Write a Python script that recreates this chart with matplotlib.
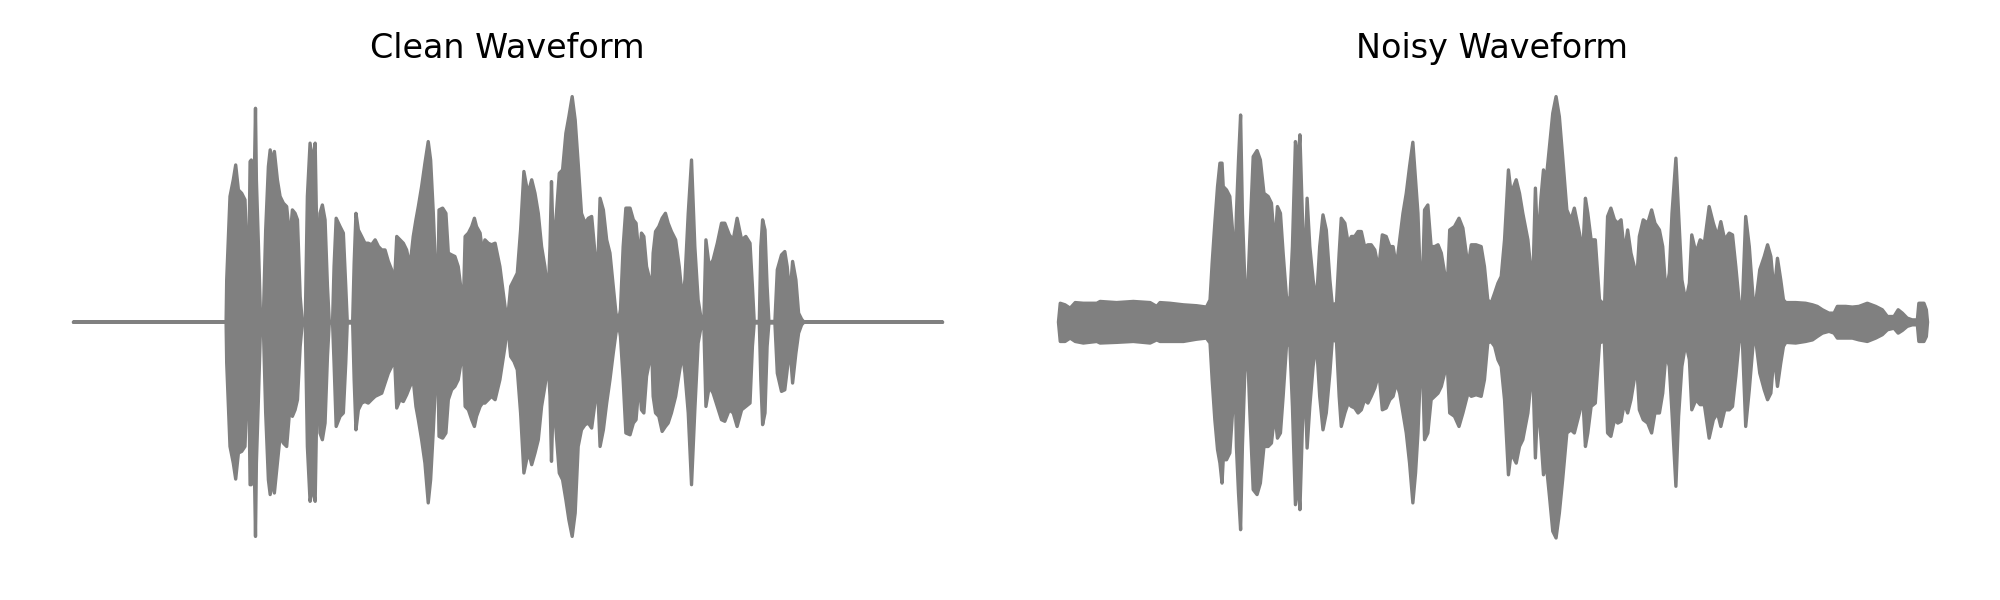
import numpy as np
import matplotlib
matplotlib.use("Agg")
import matplotlib.pyplot as plt

# envelope of the clean recording: time (s), upper and lower amplitude (normalised)
clean_t = [0.000, 0.509, 0.511, 0.522, 0.533, 0.541, 0.550, 0.561, 0.572, 0.580, 0.584, 0.589, 0.593,
           0.599, 0.603, 0.607, 0.610, 0.617, 0.624, 0.633, 0.641, 0.650, 0.656, 0.663, 0.670, 0.680,
           0.689, 0.700, 0.711, 0.722, 0.730, 0.739, 0.747, 0.756, 0.763, 0.773, 0.780, 0.789, 0.797,
           0.806, 0.811, 0.817, 0.822, 0.830, 0.839, 0.847, 0.853, 0.864, 0.869, 0.876, 0.889, 0.900,
           0.908, 0.913, 0.931, 0.936, 0.942, 0.950, 0.961, 0.972, 0.983, 0.994, 1.006, 1.017, 1.028,
           1.039, 1.050, 1.061, 1.067, 1.071, 1.078, 1.089, 1.100, 1.111, 1.122, 1.133, 1.142, 1.150,
           1.161, 1.172, 1.183, 1.191, 1.200, 1.209, 1.214, 1.219, 1.231, 1.242, 1.250, 1.261, 1.272,
           1.283, 1.294, 1.300, 1.306, 1.317, 1.328, 1.337, 1.344, 1.356, 1.364, 1.372, 1.383, 1.394,
           1.406, 1.422, 1.439, 1.447, 1.458, 1.469, 1.480, 1.491, 1.502, 1.511, 1.519, 1.528, 1.539,
           1.550, 1.561, 1.572, 1.583, 1.589, 1.594, 1.600, 1.609, 1.620, 1.631, 1.642, 1.652, 1.663,
           1.673, 1.683, 1.694, 1.706, 1.717, 1.728, 1.739, 1.747, 1.756, 1.767, 1.778, 1.789, 1.800,
           1.809, 1.817, 1.824, 1.833, 1.842, 1.856, 1.867, 1.876, 1.887, 1.894, 1.902, 1.911, 1.922,
           1.928, 1.933, 1.941, 1.952, 1.963, 1.974, 1.983, 1.994, 2.008, 2.020, 2.031, 2.039, 2.050,
           2.061, 2.072, 2.083, 2.094, 2.102, 2.109, 2.120, 2.133, 2.147, 2.161, 2.172, 2.187, 2.200,
           2.213, 2.228, 2.242, 2.256, 2.264, 2.270, 2.287, 2.292, 2.298, 2.306, 2.313, 2.319, 2.339,
           2.347, 2.361, 2.372, 2.380, 2.389, 2.398, 2.409, 2.418, 2.428, 2.436, 2.898]
clean_hi = [0, 0, 0.188, 0.559, 0.633, 0.699, 0.588, 0.573, 0.544, 0.247, 0.188, 0.714, 0.721,
            0.484, 0.633, 0.951, 0.633, 0.336, 0.010, 0.010, 0.410, 0.692, 0.766, 0.707, 0.759, 0.633,
            0.559, 0.529, 0.514, 0.366, 0.499, 0.484, 0.455, 0.114, 0.003, 0.003, 0.559, 0.796, 0.707,
            0.796, 0.410, 0.247, 0.484, 0.521, 0.455, 0.159, 0.003, 0.003, 0.247, 0.462, 0.425, 0.396,
            0.159, 0.003, 0.003, 0.262, 0.484, 0.410, 0.381, 0.351, 0.351, 0.344, 0.366, 0.336, 0.321,
            0.321, 0.270, 0.233, 0.129, 0.188, 0.381, 0.366, 0.351, 0.321, 0.247, 0.381, 0.455, 0.514,
            0.603, 0.707, 0.803, 0.721, 0.484, 0.188, 0.070, 0.499, 0.507, 0.484, 0.307, 0.299, 0.292,
            0.247, 0.129, 0.070, 0.381, 0.396, 0.425, 0.462, 0.425, 0.396, 0.307, 0.366, 0.351, 0.344,
            0.351, 0.247, 0.070, 0.003, 0.159, 0.188, 0.218, 0.410, 0.670, 0.603, 0.588, 0.633, 0.573,
            0.484, 0.336, 0.247, 0.114, 0.336, 0.625, 0.336, 0.455, 0.662, 0.677, 0.840, 0.914, 1.003,
            0.899, 0.707, 0.484, 0.440, 0.462, 0.470, 0.307, 0.188, 0.551, 0.499, 0.366, 0.307, 0.159,
            0.040, 0.003, 0.055, 0.336, 0.507, 0.507, 0.455, 0.440, 0.277, 0.396, 0.381, 0.247, 0.188,
            0.114, 0.307, 0.403, 0.425, 0.462, 0.484, 0.440, 0.403, 0.366, 0.247, 0.099, 0.188, 0.484,
            0.721, 0.336, 0.099, 0.007, 0.007, 0.366, 0.247, 0.277, 0.351, 0.440, 0.440, 0.388, 0.366,
            0.462, 0.366, 0.381, 0.351, 0.159, 0.003, 0.003, 0.336, 0.455, 0.410, 0.159, 0.003, 0.003,
            0.233, 0.299, 0.314, 0.247, 0.114, 0.270, 0.188, 0.040, 0.013, 0, 0]
clean_lo = [0, 0, -0.182, -0.553, -0.627, -0.698, -0.582, -0.575, -0.553, -0.256, -0.197, -0.723, -0.723,
            -0.479, -0.627, -0.953, -0.627, -0.330, -0.012, -0.012, -0.404, -0.701, -0.767, -0.701, -0.760, -0.627,
            -0.508, -0.538, -0.553, -0.375, -0.419, -0.390, -0.345, -0.108, -0.004, -0.004, -0.553, -0.797, -0.730,
            -0.797, -0.404, -0.182, -0.493, -0.523, -0.449, -0.153, -0.004, -0.004, -0.182, -0.464, -0.419, -0.404,
            -0.182, -0.004, -0.004, -0.256, -0.479, -0.390, -0.360, -0.353, -0.360, -0.345, -0.330, -0.323, -0.316,
            -0.271, -0.227, -0.197, -0.138, -0.167, -0.382, -0.345, -0.353, -0.323, -0.286, -0.256, -0.375, -0.434,
            -0.523, -0.627, -0.804, -0.701, -0.479, -0.227, -0.108, -0.508, -0.516, -0.493, -0.345, -0.301, -0.286,
            -0.256, -0.167, -0.108, -0.375, -0.390, -0.434, -0.464, -0.419, -0.375, -0.360, -0.360, -0.345, -0.330,
            -0.345, -0.256, -0.108, -0.004, -0.153, -0.175, -0.212, -0.404, -0.671, -0.612, -0.582, -0.634, -0.582,
            -0.523, -0.375, -0.286, -0.182, -0.330, -0.619, -0.330, -0.479, -0.671, -0.701, -0.790, -0.879, -0.953,
            -0.849, -0.553, -0.479, -0.456, -0.449, -0.471, -0.360, -0.256, -0.553, -0.479, -0.360, -0.256, -0.138,
            -0.049, -0.004, -0.064, -0.256, -0.493, -0.501, -0.449, -0.434, -0.256, -0.390, -0.404, -0.241, -0.167,
            -0.108, -0.330, -0.404, -0.419, -0.486, -0.464, -0.449, -0.404, -0.330, -0.227, -0.138, -0.227, -0.404,
            -0.723, -0.390, -0.093, -0.012, -0.012, -0.375, -0.286, -0.316, -0.375, -0.434, -0.441, -0.390, -0.404,
            -0.464, -0.390, -0.375, -0.360, -0.108, -0.004, -0.004, -0.256, -0.456, -0.404, -0.108, -0.004, -0.004,
            -0.227, -0.308, -0.301, -0.212, -0.108, -0.271, -0.138, -0.049, -0.012, 0, 0]

# envelope of the noisy recording
noisy_t = [0.000, 0.006, 0.022, 0.039, 0.056, 0.083, 0.128, 0.139, 0.194, 0.250, 0.306, 0.328, 0.339,
           0.372, 0.417, 0.461, 0.494, 0.506, 0.513, 0.522, 0.531, 0.539, 0.546, 0.550, 0.561, 0.572,
           0.581, 0.589, 0.594, 0.601, 0.608, 0.614, 0.622, 0.630, 0.639, 0.650, 0.663, 0.674, 0.686,
           0.700, 0.711, 0.722, 0.731, 0.741, 0.750, 0.761, 0.772, 0.781, 0.791, 0.800, 0.806, 0.814,
           0.822, 0.830, 0.839, 0.850, 0.861, 0.872, 0.883, 0.894, 0.906, 0.914, 0.928, 0.937, 0.944,
           0.956, 0.967, 0.978, 0.989, 1.000, 1.011, 1.022, 1.033, 1.044, 1.056, 1.067, 1.072, 1.081,
           1.094, 1.106, 1.117, 1.128, 1.139, 1.150, 1.161, 1.172, 1.183, 1.192, 1.200, 1.208, 1.214,
           1.222, 1.233, 1.244, 1.256, 1.267, 1.278, 1.289, 1.297, 1.306, 1.322, 1.337, 1.350, 1.367,
           1.378, 1.394, 1.411, 1.422, 1.433, 1.444, 1.456, 1.467, 1.478, 1.489, 1.502, 1.511, 1.528,
           1.539, 1.550, 1.567, 1.578, 1.583, 1.592, 1.600, 1.611, 1.619, 1.628, 1.639, 1.650, 1.661,
           1.672, 1.683, 1.697, 1.711, 1.722, 1.739, 1.750, 1.759, 1.767, 1.778, 1.792, 1.806, 1.817,
           1.822, 1.833, 1.844, 1.856, 1.867, 1.878, 1.889, 1.900, 1.911, 1.922, 1.928, 1.939, 1.952,
           1.967, 1.980, 1.991, 2.006, 2.017, 2.028, 2.039, 2.048, 2.061, 2.070, 2.081, 2.094, 2.106,
           2.114, 2.128, 2.142, 2.156, 2.172, 2.186, 2.200, 2.211, 2.224, 2.239, 2.250, 2.261, 2.272,
           2.283, 2.294, 2.306, 2.319, 2.328, 2.341, 2.356, 2.367, 2.378, 2.389, 2.400, 2.411, 2.420,
           2.428, 2.461, 2.494, 2.517, 2.533, 2.550, 2.572, 2.589, 2.600, 2.628, 2.650, 2.672, 2.700,
           2.728, 2.750, 2.767, 2.789, 2.803, 2.817, 2.833, 2.850, 2.867, 2.872, 2.889, 2.897, 2.901]
noisy_hi = [0, 0.084, 0.077, 0.062, 0.087, 0.084, 0.084, 0.092, 0.087, 0.092, 0.087, 0.070, 0.087,
            0.084, 0.077, 0.073, 0.067, 0.099, 0.262, 0.440, 0.603, 0.707, 0.707, 0.603, 0.588, 0.559,
            0.410, 0.188, 0.484, 0.721, 0.921, 0.484, 0.188, 0.087, 0.381, 0.736, 0.763, 0.721, 0.573,
            0.559, 0.529, 0.336, 0.514, 0.484, 0.307, 0.114, 0.084, 0.336, 0.803, 0.707, 0.833, 0.484,
            0.188, 0.551, 0.336, 0.188, 0.087, 0.336, 0.477, 0.410, 0.188, 0.077, 0.084, 0.307, 0.462,
            0.440, 0.351, 0.381, 0.381, 0.403, 0.403, 0.336, 0.344, 0.344, 0.321, 0.247, 0.277, 0.388,
            0.381, 0.336, 0.336, 0.247, 0.366, 0.484, 0.573, 0.692, 0.800, 0.633, 0.484, 0.188, 0.129,
            0.499, 0.521, 0.336, 0.336, 0.344, 0.307, 0.218, 0.129, 0.410, 0.425, 0.462, 0.418, 0.247,
            0.344, 0.344, 0.336, 0.247, 0.099, 0.084, 0.129, 0.173, 0.203, 0.366, 0.677, 0.573, 0.633,
            0.573, 0.484, 0.366, 0.218, 0.159, 0.596, 0.336, 0.559, 0.677, 0.633, 0.781, 0.929, 1.003,
            0.914, 0.736, 0.499, 0.455, 0.507, 0.396, 0.307, 0.551, 0.484, 0.366, 0.366, 0.099, 0.084,
            0.040, 0.470, 0.507, 0.455, 0.440, 0.455, 0.307, 0.410, 0.307, 0.247, 0.129, 0.381, 0.455,
            0.440, 0.499, 0.440, 0.410, 0.336, 0.129, 0.218, 0.484, 0.729, 0.484, 0.188, 0.092, 0.173,
            0.388, 0.307, 0.366, 0.351, 0.514, 0.440, 0.381, 0.447, 0.366, 0.396, 0.388, 0.247, 0.092,
            0.084, 0.470, 0.336, 0.099, 0.092, 0.233, 0.292, 0.344, 0.292, 0.129, 0.284, 0.188, 0.099,
            0.087, 0.087, 0.084, 0.077, 0.070, 0.055, 0.040, 0.040, 0.070, 0.070, 0.067, 0.070, 0.084,
            0.070, 0.055, 0.025, 0.025, 0.055, 0.040, 0.018, 0.010, 0.010, 0.084, 0.084, 0.055, 0]
noisy_lo = [0, -0.086, -0.086, -0.071, -0.086, -0.093, -0.086, -0.093, -0.090, -0.086, -0.093, -0.079, -0.086,
            -0.086, -0.086, -0.076, -0.071, -0.093, -0.256, -0.434, -0.567, -0.627, -0.716, -0.612, -0.612, -0.582,
            -0.404, -0.182, -0.553, -0.760, -0.923, -0.553, -0.227, -0.079, -0.404, -0.745, -0.767, -0.716, -0.553,
            -0.553, -0.538, -0.404, -0.516, -0.493, -0.330, -0.108, -0.086, -0.375, -0.812, -0.701, -0.834, -0.479,
            -0.227, -0.560, -0.375, -0.197, -0.086, -0.330, -0.479, -0.404, -0.227, -0.079, -0.086, -0.330, -0.464,
            -0.404, -0.360, -0.375, -0.382, -0.404, -0.390, -0.345, -0.360, -0.330, -0.293, -0.241, -0.256, -0.390,
            -0.382, -0.345, -0.330, -0.271, -0.316, -0.404, -0.493, -0.627, -0.804, -0.671, -0.493, -0.227, -0.138,
            -0.523, -0.493, -0.345, -0.330, -0.316, -0.286, -0.227, -0.167, -0.404, -0.419, -0.464, -0.404, -0.316,
            -0.330, -0.323, -0.330, -0.256, -0.093, -0.086, -0.108, -0.167, -0.197, -0.345, -0.679, -0.582, -0.627,
            -0.553, -0.523, -0.404, -0.256, -0.197, -0.604, -0.345, -0.523, -0.679, -0.627, -0.775, -0.930, -0.960,
            -0.849, -0.701, -0.493, -0.479, -0.493, -0.404, -0.330, -0.553, -0.493, -0.375, -0.360, -0.093, -0.086,
            -0.079, -0.493, -0.508, -0.434, -0.449, -0.441, -0.360, -0.404, -0.345, -0.256, -0.138, -0.390, -0.434,
            -0.449, -0.493, -0.404, -0.404, -0.316, -0.138, -0.197, -0.404, -0.730, -0.419, -0.197, -0.093, -0.167,
            -0.390, -0.345, -0.367, -0.367, -0.516, -0.434, -0.404, -0.464, -0.390, -0.390, -0.375, -0.241, -0.086,
            -0.086, -0.464, -0.301, -0.093, -0.086, -0.227, -0.301, -0.345, -0.316, -0.138, -0.286, -0.182, -0.108,
            -0.090, -0.093, -0.086, -0.079, -0.064, -0.049, -0.041, -0.049, -0.071, -0.071, -0.071, -0.079, -0.086,
            -0.071, -0.056, -0.034, -0.027, -0.049, -0.037, -0.019, -0.012, -0.012, -0.086, -0.086, -0.064, 0]

titles = ["Clean Waveform", "Noisy Waveform"]
waves = [(clean_t, clean_lo, clean_hi), (noisy_t, noisy_lo, noisy_hi)]

fig = plt.figure(figsize=(10, 3), dpi=200)
positions = [[0.01475, 0.0667, 0.478, 0.8095], [0.50725, 0.0667, 0.478, 0.8095]]

for pos, title, (t, lo, hi) in zip(positions, titles, waves):
    ax = fig.add_axes(pos)
    ax.fill_between(np.array(t), np.array(lo), np.array(hi), facecolor='gray', edgecolor='gray',
                    linewidth=1.2, joinstyle='round', capstyle='round')
    ax.set_ylim(-1.06, 1.10)
    ax.set_title(title, fontsize=12)
    ax.axis('off')

fig.savefig('out.png', dpi=200)
